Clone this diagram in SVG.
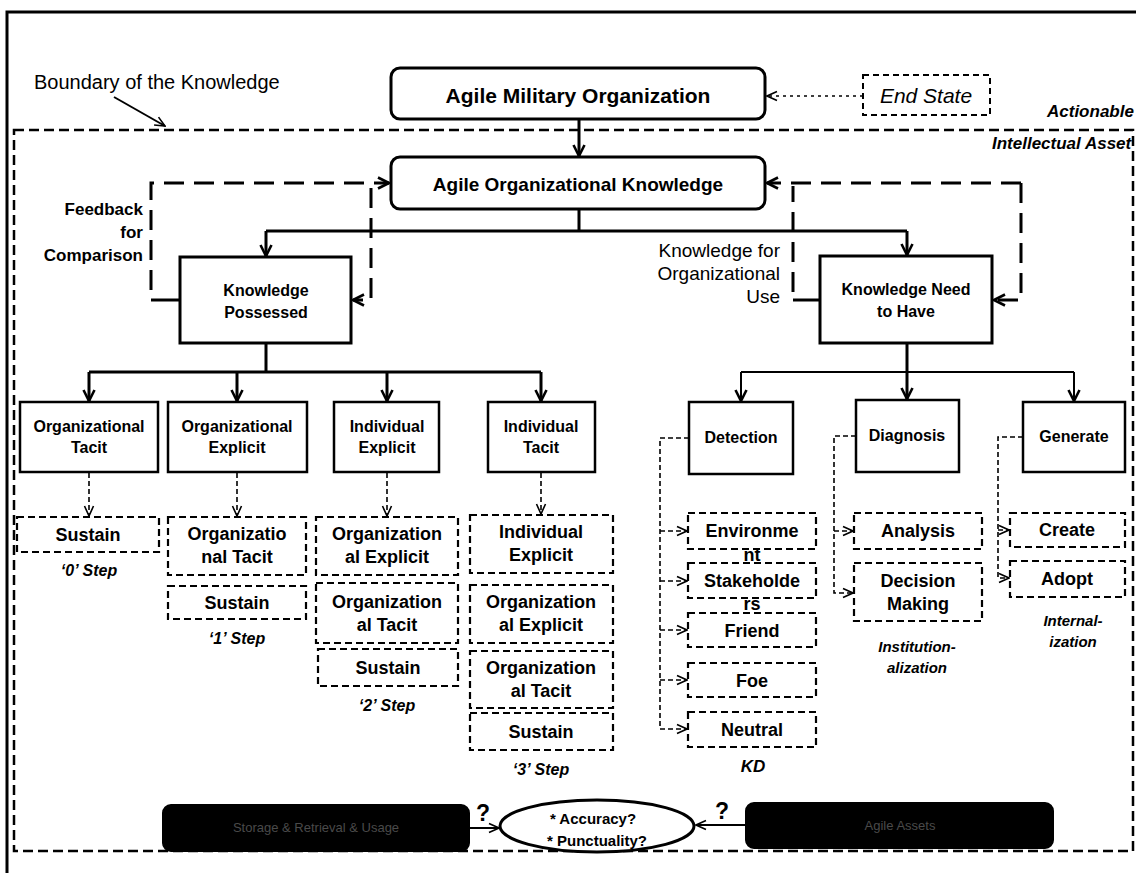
<svg xmlns="http://www.w3.org/2000/svg" width="1136" height="873" viewBox="0 0 1136 873">
<defs>
<style>
text{font-family:"Liberation Sans",Arial,sans-serif;fill:#000}
.b{font-weight:bold}
.bi{font-weight:bold;font-style:italic}
.m{text-anchor:middle}
.e{text-anchor:end}
.box{fill:#fff;stroke:#000;stroke-width:3}
.cbox{fill:#fff;stroke:#000;stroke-width:2.5}
.dbox{fill:#fff;stroke:#000;stroke-width:2.2;stroke-dasharray:7 4}
.blk{fill:#000;stroke:#000;stroke-width:2}
.solid{fill:none;stroke:#000;stroke-width:3}
.thin{fill:none;stroke:#000;stroke-width:2}
.fb{fill:none;stroke:#000;stroke-width:3;stroke-dasharray:20 10}
.dd{fill:none;stroke:#000;stroke-width:1.6;stroke-dasharray:5 3}
.dot{fill:none;stroke:#000;stroke-width:1.6;stroke-dasharray:3 4}
.faint{fill:#4a4a4a}
</style>
<marker id="ah" viewBox="0 0 14 14" markerWidth="14" markerHeight="14" markerUnits="userSpaceOnUse" refX="12.5" refY="7" orient="auto">
<path d="M1.5,1.5 L12.5,7 L1.5,12.5" fill="none" stroke="#000" stroke-width="2.6" stroke-dasharray="none"/>
</marker>
<marker id="ahs" viewBox="0 0 12 12" markerWidth="12" markerHeight="12" markerUnits="userSpaceOnUse" refX="11" refY="6" orient="auto">
<path d="M1,1.5 L11,6 L1,10.5" fill="none" stroke="#000" stroke-width="1.6" stroke-dasharray="none"/>
</marker>
</defs>
<rect width="1136" height="873" fill="#fff"/>
<path d="M7,873 V12 H1136" fill="none" stroke="#000" stroke-width="3"/>
<rect x="14" y="130" width="1119" height="721" fill="none" stroke="#000" stroke-width="2.5" stroke-dasharray="10 5"/>
<text x="34" y="89" font-size="20">Boundary of the Knowledge</text>
<text x="1047" y="117" font-size="17" class="bi">Actionable</text>
<text x="992" y="149" font-size="17" class="bi">Intellectual Asset</text>

<g id="connectors">
<line x1="114" y1="97" x2="165" y2="126" class="thin" marker-end="url(#ahs)"/>
<line x1="863" y1="96" x2="767" y2="96" class="dot" marker-end="url(#ahs)"/>
<line x1="579" y1="119" x2="579" y2="156" class="solid" marker-end="url(#ah)"/>
<path d="M579,209 V231 M266,231 H907" class="solid"/>
<line x1="266" y1="231" x2="266" y2="256" class="solid" marker-end="url(#ah)"/>
<line x1="907" y1="231" x2="907" y2="255" class="solid" marker-end="url(#ah)"/>
<path d="M180,300 H151" class="solid"/>
<path d="M151,290 V183 H389" class="fb" marker-end="url(#ah)"/>
<path d="M371,188 V300 H353" class="fb" marker-end="url(#ah)"/>
<path d="M820,300 H793" class="solid"/>
<path d="M793,292 V186" class="fb"/>
<path d="M1021,183 H767" class="fb" marker-end="url(#ah)"/>
<path d="M1021,183 V300 H994" class="fb" marker-end="url(#ah)"/>
<path d="M266,343 V372 M89,372 H541" class="solid" stroke-width="2.5"/>
<line x1="89" y1="372" x2="89" y2="401" class="solid" stroke-width="2.5" marker-end="url(#ah)"/>
<line x1="237" y1="372" x2="237" y2="401" class="solid" stroke-width="2.5" marker-end="url(#ah)"/>
<line x1="387" y1="372" x2="387" y2="401" class="solid" stroke-width="2.5" marker-end="url(#ah)"/>
<line x1="541" y1="372" x2="541" y2="401" class="solid" stroke-width="2.5" marker-end="url(#ah)"/>
<line x1="89" y1="473" x2="89" y2="516" class="dd" marker-end="url(#ahs)"/>
<line x1="237" y1="473" x2="237" y2="516" class="dd" marker-end="url(#ahs)"/>
<line x1="387" y1="473" x2="387" y2="516" class="dd" marker-end="url(#ahs)"/>
<line x1="541" y1="473" x2="541" y2="514" class="dd" marker-end="url(#ahs)"/>
<path d="M907,343 V372 M741,372 H1074" class="thin" stroke-width="2.2"/>
<line x1="741" y1="372" x2="741" y2="401" class="thin" marker-end="url(#ah)"/>
<line x1="907" y1="343" x2="907" y2="399" class="solid" marker-end="url(#ah)"/>
<line x1="1074" y1="372" x2="1074" y2="401" class="thin" marker-end="url(#ah)"/>
<path d="M689,438 H660 V729 H687" class="dd" marker-end="url(#ahs)"/>
<line x1="660" y1="531" x2="687" y2="531" class="dd" marker-end="url(#ahs)"/>
<line x1="660" y1="581" x2="687" y2="581" class="dd" marker-end="url(#ahs)"/>
<line x1="660" y1="630" x2="687" y2="630" class="dd" marker-end="url(#ahs)"/>
<line x1="660" y1="680" x2="687" y2="680" class="dd" marker-end="url(#ahs)"/>
<path d="M856,436 H834 V593 H853" class="dd" marker-end="url(#ahs)"/>
<line x1="834" y1="531" x2="853" y2="531" class="dd" marker-end="url(#ahs)"/>
<path d="M1023,437 H998 V578 H1009" class="dd" marker-end="url(#ahs)"/>
<line x1="998" y1="530" x2="1009" y2="530" class="dd" marker-end="url(#ahs)"/>
<line x1="469" y1="828" x2="499" y2="828" class="thin" marker-end="url(#ahs)"/>
<line x1="746" y1="825" x2="696" y2="825" class="thin" marker-end="url(#ahs)"/>
</g>

<g id="military">
<rect x="391" y="68" width="374" height="51" rx="9" class="box"/>
<text x="578" y="103" font-size="21" class="b m">Agile Military Organization</text>
</g>
<g id="endstate">
<rect x="863" y="75" width="127" height="40" fill="#fff" stroke="#000" stroke-width="2" stroke-dasharray="6 4"/>
<text x="926" y="103" font-size="21" font-style="italic" class="m">End State</text>
</g>
<g id="orgknowledge">
<rect x="391" y="157" width="374" height="52" rx="9" class="box"/>
<text x="578" y="191" font-size="19" class="b m">Agile Organizational Knowledge</text>
</g>
<g id="feedback-label">
<text x="143" y="215" font-size="17" class="b e">Feedback</text>
<text x="143" y="238" font-size="17" class="b e">for</text>
<text x="143" y="261" font-size="17" class="b e">Comparison</text>
</g>
<g id="orguse-label">
<text x="780" y="257" font-size="19" class="e">Knowledge for</text>
<text x="780" y="280" font-size="19" class="e">Organizational</text>
<text x="780" y="303" font-size="19" class="e">Use</text>
</g>
<g id="possessed">
<rect x="180" y="257" width="171" height="86" class="box"/>
<text x="266" y="296" font-size="16" class="b m">Knowledge</text>
<text x="266" y="318" font-size="16" class="b m">Possessed</text>
</g>
<g id="needhave">
<rect x="820" y="256" width="172" height="87" class="box"/>
<text x="906" y="295" font-size="16" class="b m">Knowledge Need</text>
<text x="906" y="317" font-size="16" class="b m">to Have</text>
</g>

<g id="orgtacit">
<rect x="20" y="402" width="138" height="70" class="cbox"/>
<text x="89" y="432" font-size="16" class="b m">Organizational</text>
<text x="89" y="453" font-size="16" class="b m">Tacit</text>
</g>
<g id="orgexplicit">
<rect x="168" y="402" width="139" height="70" class="cbox"/>
<text x="237" y="432" font-size="16" class="b m">Organizational</text>
<text x="237" y="453" font-size="16" class="b m">Explicit</text>
</g>
<g id="indexplicit">
<rect x="334" y="402" width="105" height="70" class="cbox"/>
<text x="387" y="432" font-size="16" class="b m">Individual</text>
<text x="387" y="453" font-size="16" class="b m">Explicit</text>
</g>
<g id="indtacit">
<rect x="488" y="402" width="107" height="70" class="cbox"/>
<text x="541" y="432" font-size="16" class="b m">Individual</text>
<text x="541" y="453" font-size="16" class="b m">Tacit</text>
</g>

<g id="col1">
<rect x="17" y="517" width="142" height="35" class="dbox"/>
<text x="88" y="541" font-size="18" class="b m">Sustain</text>
<text x="89" y="576" font-size="16" class="bi m">‘0’ Step</text>
</g>
<g id="col2">
<rect x="168" y="517" width="138" height="58" class="dbox"/>
<text x="237" y="540" font-size="18" class="b m">Organizatio</text>
<text x="237" y="563" font-size="18" class="b m">nal Tacit</text>
<rect x="168" y="586" width="138" height="33" class="dbox"/>
<text x="237" y="609" font-size="18" class="b m">Sustain</text>
<text x="237" y="644" font-size="16" class="bi m">‘1’ Step</text>
</g>
<g id="col3">
<rect x="316" y="517" width="142" height="58" class="dbox"/>
<text x="387" y="540" font-size="18" class="b m">Organization</text>
<text x="387" y="563" font-size="18" class="b m">al Explicit</text>
<rect x="316" y="583" width="142" height="60" class="dbox"/>
<text x="387" y="608" font-size="18" class="b m">Organization</text>
<text x="387" y="631" font-size="18" class="b m">al Tacit</text>
<rect x="318" y="649" width="140" height="37" class="dbox"/>
<text x="388" y="674" font-size="18" class="b m">Sustain</text>
<text x="387" y="711" font-size="16" class="bi m">‘2’ Step</text>
</g>
<g id="col4">
<rect x="470" y="515" width="143" height="58" class="dbox"/>
<text x="541" y="538" font-size="18" class="b m">Individual</text>
<text x="541" y="561" font-size="18" class="b m">Explicit</text>
<rect x="470" y="585" width="143" height="58" class="dbox"/>
<text x="541" y="608" font-size="18" class="b m">Organization</text>
<text x="541" y="631" font-size="18" class="b m">al Explicit</text>
<rect x="470" y="651" width="143" height="57" class="dbox"/>
<text x="541" y="674" font-size="18" class="b m">Organization</text>
<text x="541" y="697" font-size="18" class="b m">al Tacit</text>
<rect x="470" y="713" width="143" height="37" class="dbox"/>
<text x="541" y="738" font-size="18" class="b m">Sustain</text>
<text x="541" y="775" font-size="16" class="bi m">‘3’ Step</text>
</g>

<g id="detection">
<rect x="689" y="402" width="104" height="72" class="cbox"/>
<text x="741" y="443" font-size="16" class="b m">Detection</text>
</g>
<g id="diagnosis">
<rect x="856" y="400" width="103" height="72" class="cbox"/>
<text x="907" y="441" font-size="16" class="b m">Diagnosis</text>
</g>
<g id="generate">
<rect x="1023" y="402" width="102" height="70" class="cbox"/>
<text x="1074" y="442" font-size="16" class="b m">Generate</text>
</g>

<g id="detection-items">
<rect x="688" y="513" width="128" height="36" class="dbox"/>
<rect x="688" y="563" width="128" height="35" class="dbox"/>
<rect x="688" y="613" width="128" height="34" class="dbox"/>
<rect x="688" y="663" width="128" height="34" class="dbox"/>
<rect x="688" y="712" width="128" height="35" class="dbox"/>
<text x="752" y="537" font-size="18" class="b m">Environme</text>
<text x="752" y="561" font-size="18" class="b m">nt</text>
<text x="752" y="587" font-size="18" class="b m">Stakeholde</text>
<text x="752" y="610" font-size="18" class="b m">rs</text>
<text x="752" y="637" font-size="18" class="b m">Friend</text>
<text x="752" y="687" font-size="18" class="b m">Foe</text>
<text x="752" y="736" font-size="18" class="b m">Neutral</text>
<text x="753" y="772" font-size="17" class="bi m">KD</text>
</g>
<g id="diagnosis-items">
<rect x="854" y="513" width="128" height="36" class="dbox"/>
<text x="918" y="537" font-size="18" class="b m">Analysis</text>
<rect x="854" y="563" width="128" height="58" class="dbox"/>
<text x="918" y="587" font-size="18" class="b m">Decision</text>
<text x="918" y="610" font-size="18" class="b m">Making</text>
<text x="917" y="652" font-size="15" class="bi m">Institution-</text>
<text x="917" y="673" font-size="15" class="bi m">alization</text>
</g>
<g id="generate-items">
<rect x="1010" y="513" width="115" height="34" class="dbox"/>
<text x="1067" y="536" font-size="18" class="b m">Create</text>
<rect x="1010" y="561" width="115" height="36" class="dbox"/>
<text x="1067" y="585" font-size="18" class="b m">Adopt</text>
<text x="1073" y="626" font-size="15" class="bi m">Internal-</text>
<text x="1073" y="647" font-size="15" class="bi m">ization</text>
</g>

<g id="storage">
<rect x="163" y="805" width="306" height="46" rx="8" class="blk"/>
<text x="316" y="832" font-size="13" class="m faint">Storage &amp; Retrieval &amp; Usage</text>
<text x="483" y="821" font-size="23" class="b m">?</text>
</g>
<g id="quality">
<ellipse cx="597" cy="826" rx="97" ry="26" fill="#fff" stroke="#000" stroke-width="3"/>
<text x="593" y="824" font-size="15" class="b m">* Accuracy?</text>
<text x="597" y="846" font-size="15" class="b m">* Punctuality?</text>
</g>
<g id="assets">
<rect x="746" y="803" width="307" height="45" rx="8" class="blk"/>
<text x="900" y="830" font-size="13" class="m faint">Agile Assets</text>
<text x="722" y="819" font-size="23" class="b m">?</text>
</g>
</svg>
